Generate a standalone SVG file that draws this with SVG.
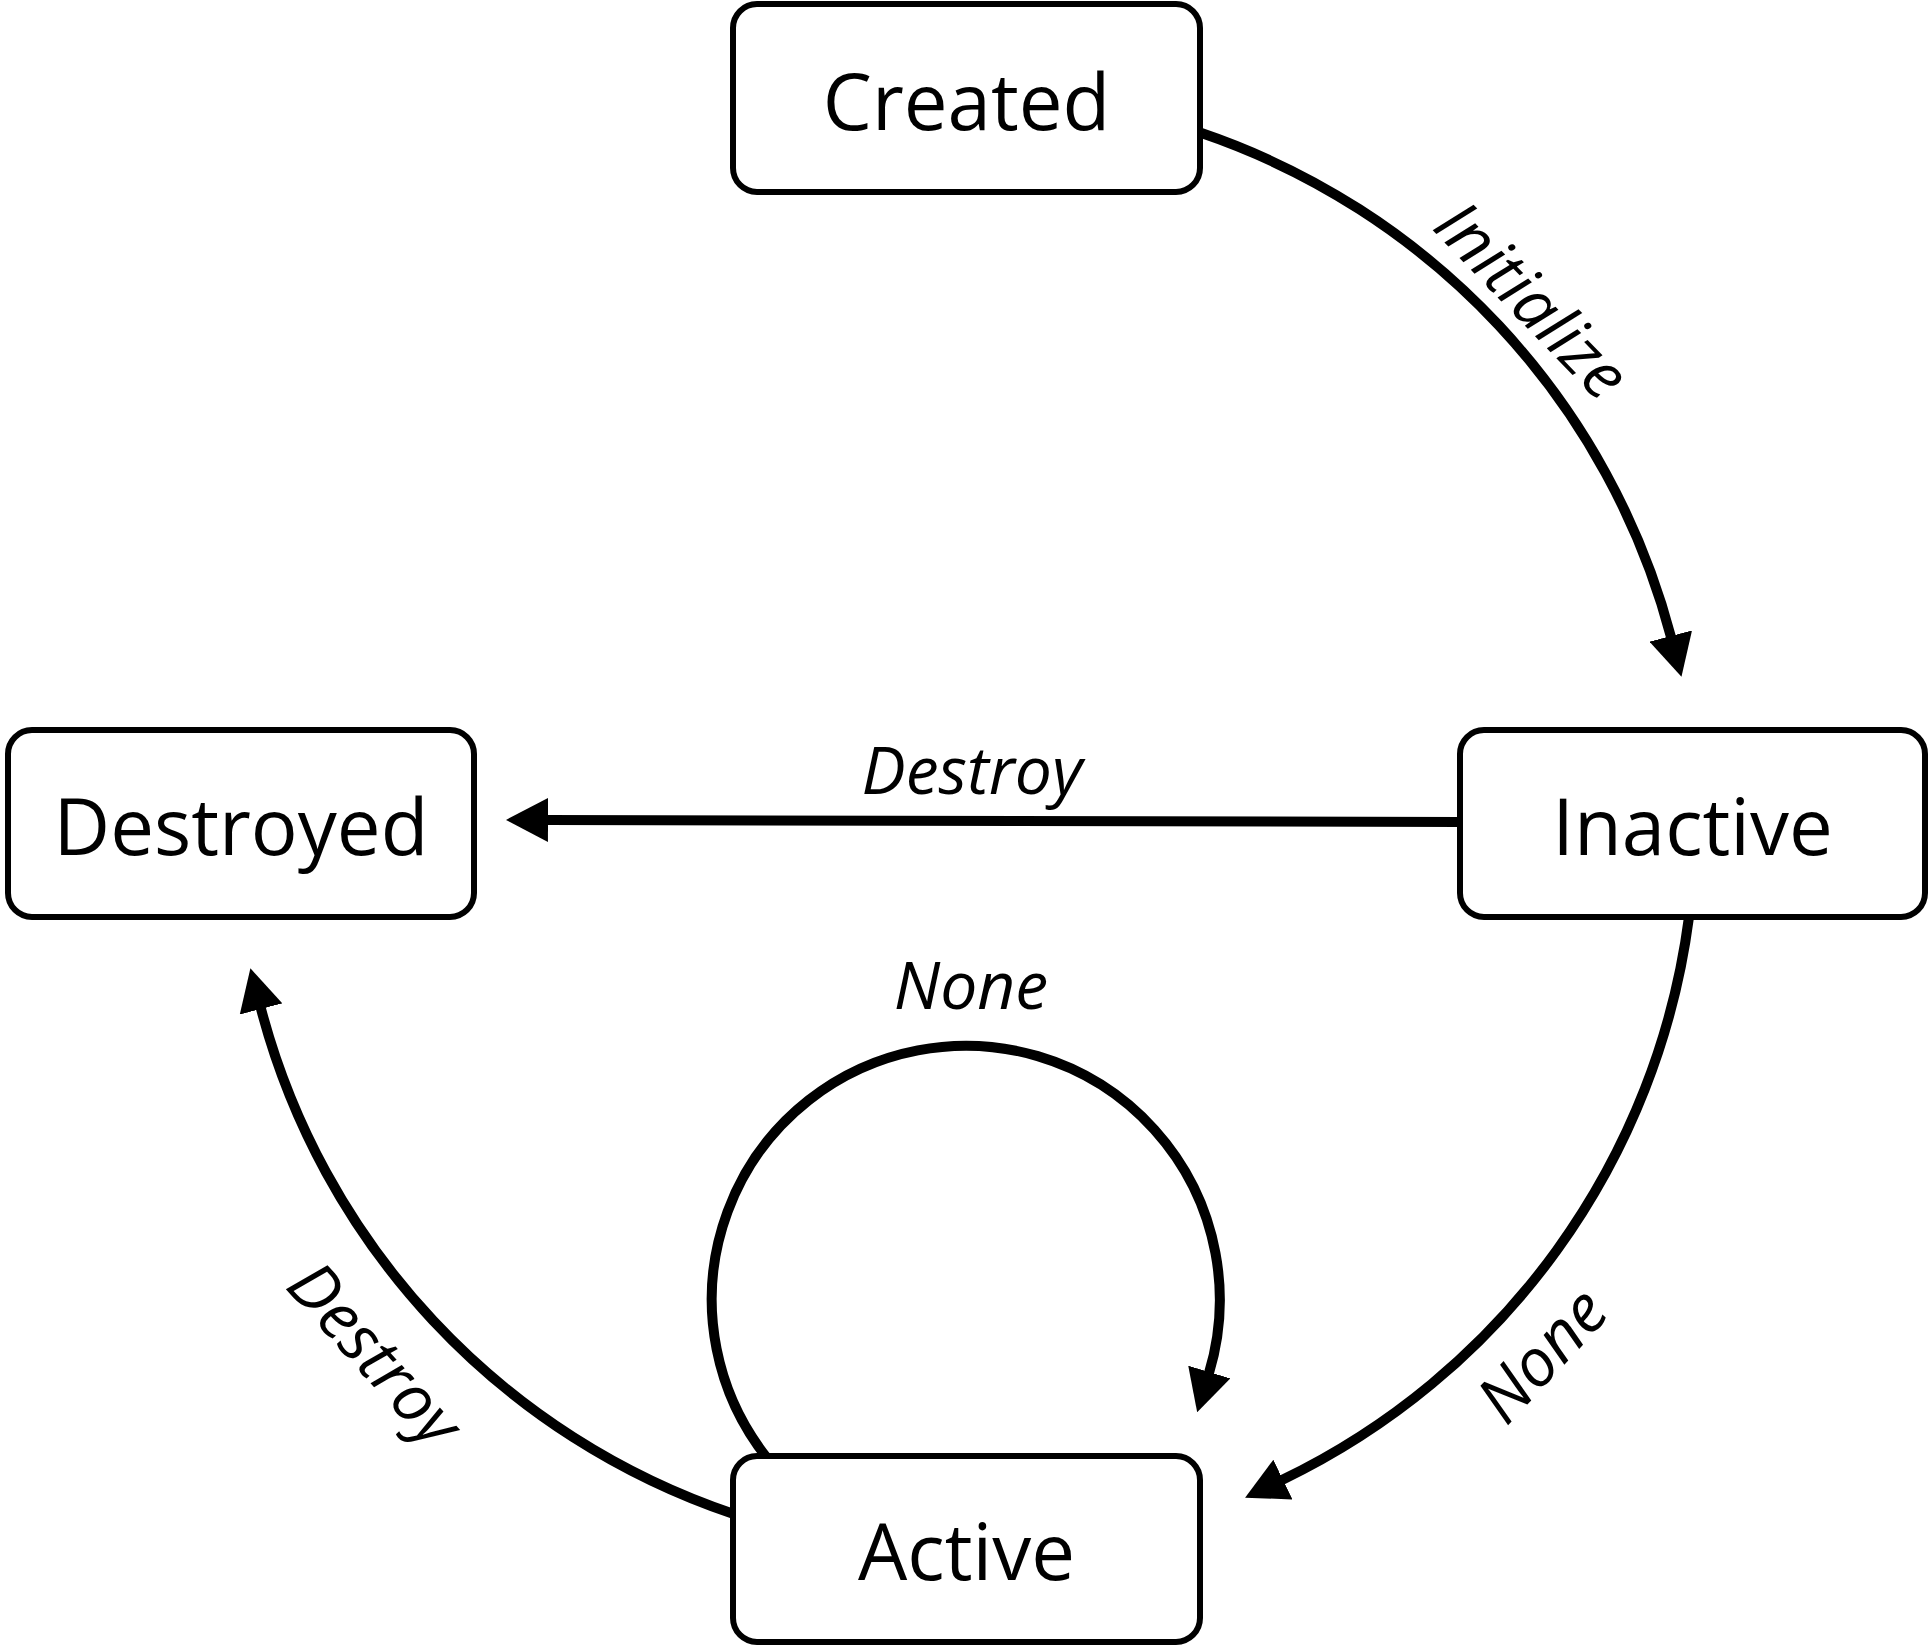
<svg xmlns="http://www.w3.org/2000/svg" width="1930" height="1649" viewBox="0 0 1930 1649">
<style>
.node rect{fill:#fff;stroke:#000;stroke-width:6}
.node text{font-family:"Open Sans","Noto Sans",sans-serif;font-size:78px;fill:#000;text-anchor:middle}
.edge{fill:none;stroke:#000;stroke-width:10;marker-end:url(#arrow)}
.lbl{font-family:"Open Sans","Noto Sans",sans-serif;font-size:66px;font-style:italic;fill:#000;text-anchor:middle}
</style>
<defs>
<marker id="arrow" viewBox="0 0 42 44" refX="1" refY="22" markerWidth="42" markerHeight="44" markerUnits="userSpaceOnUse" orient="auto">
<path d="M0,0 L42,22 L0,44 Z" fill="#000"/>
</marker>
</defs>
<rect width="1930" height="1649" fill="#fff"/>
<g id="connectors">
<path class="edge" d="M1200 132.6 A729 729 0 0 1 1671 637"/>
<path class="edge" d="M1460 822 L547 820"/>
<path class="edge" d="M1689 917 A729 729 0 0 1 1282 1480"/>
<path class="edge" d="M733 1513.8 A729 729 0 0 1 260.8 1008"/>
<path class="edge" d="M767.1 1458 A254 254 0 1 1 1209 1373"/>
<text class="lbl" transform="translate(1532,300) rotate(46)" x="0" y="23">Initialize</text>
<text class="lbl" x="972" y="794">Destroy</text>
<text class="lbl" x="971" y="1009">None</text>
<text class="lbl" transform="translate(1542,1355) rotate(-47)" x="0" y="23">None</text>
<text class="lbl" transform="translate(375,1354) rotate(48)" x="0" y="23">Destroy</text>
</g>
<g id="node-created" class="node">
<rect x="733" y="4" width="467" height="188" rx="24"/>
<text x="966.5" y="130">Created</text>
</g>
<g id="node-destroyed" class="node">
<rect x="8" y="730" width="466" height="187" rx="24"/>
<text x="241" y="855">Destroyed</text>
</g>
<g id="node-inactive" class="node">
<rect x="1460" y="730" width="465" height="187" rx="24"/>
<text x="1692.5" y="855">Inactive</text>
</g>
<g id="node-active" class="node">
<rect x="733" y="1456" width="467" height="186" rx="24"/>
<text x="966.5" y="1580">Active</text>
</g>
</svg>
